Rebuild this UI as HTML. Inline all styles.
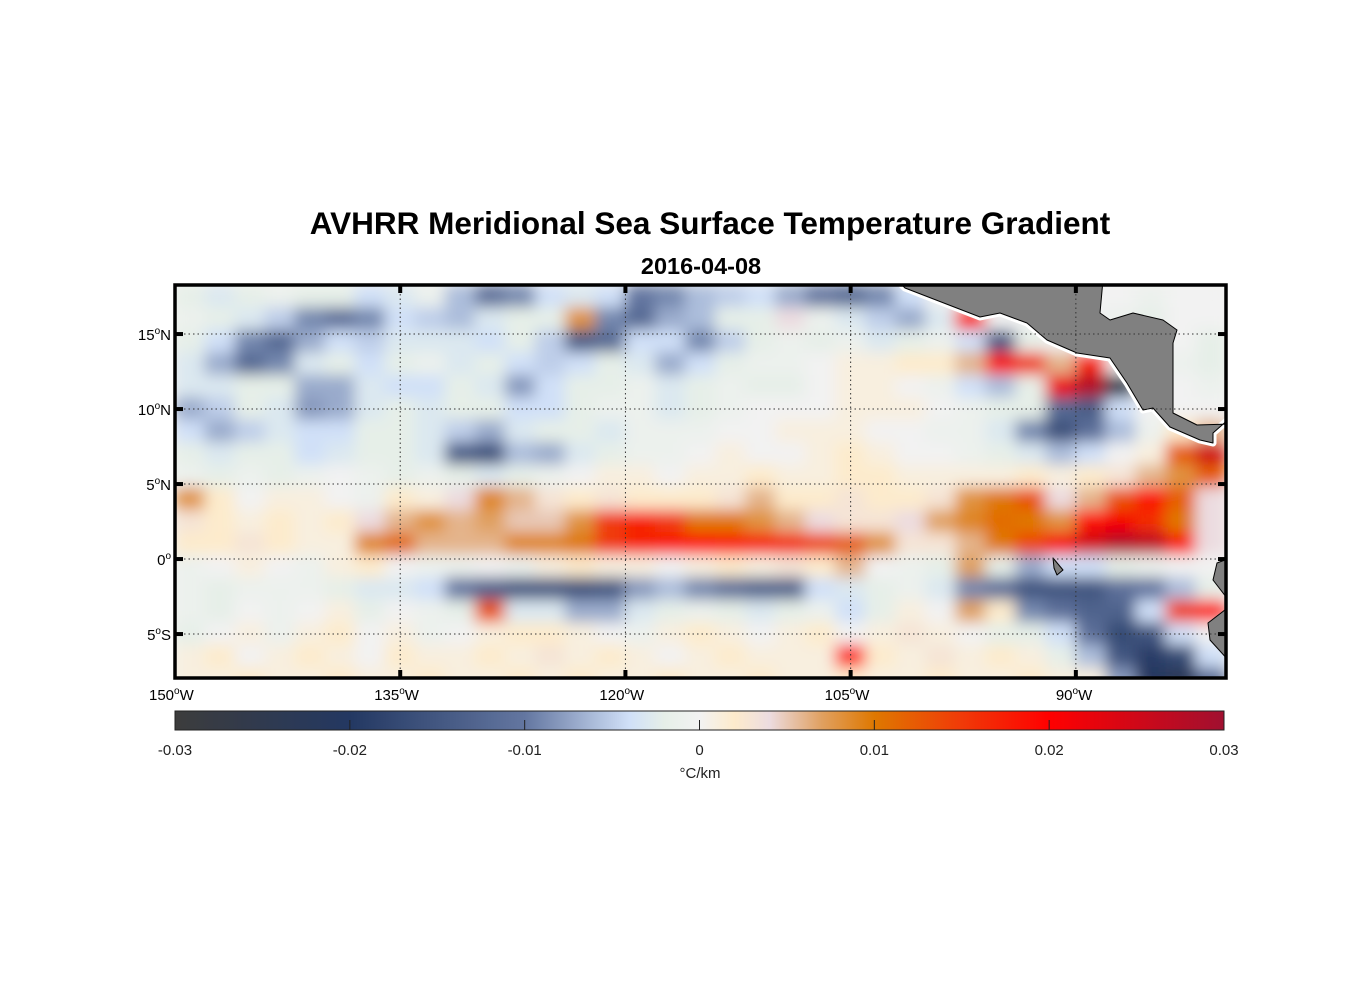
<!DOCTYPE html>
<html><head><meta charset="utf-8"><style>
body{margin:0;background:#fff;}
svg text{font-family:"Liberation Sans",sans-serif;}
</style></head><body>
<svg id="chart" width="1356" height="1000" viewBox="0 0 1356 1000" xmlns="http://www.w3.org/2000/svg">
<defs>
<clipPath id="plotclip"><rect x="175" y="285" width="1051" height="393"/></clipPath>
<filter id="blur" x="-5%" y="-5%" width="110%" height="110%"><feGaussianBlur stdDeviation="7.5" edgeMode="duplicate"/></filter>
<linearGradient id="cbgrad" x1="0" x2="1" y1="0" y2="0"></linearGradient>
</defs>
<text x="710" y="234" text-anchor="middle" font-size="31.5" font-weight="bold">AVHRR Meridional Sea Surface Temperature Gradient</text>
<text x="701" y="274" text-anchor="middle" font-size="23.5" font-weight="bold">2016-04-08</text>
<g clip-path="url(#plotclip)">
<rect x="175" y="285" width="1051" height="393" fill="#f2f2f0"/>
<g id="field" filter="url(#blur)"></g>
<g stroke-linejoin="round">
<polyline fill="none" stroke="#fff" stroke-width="7" points="897,280 905,288 980,317 1000,313 1027,323 1047,340 1077,353 1110,358 1127,383 1143,410 1153,408 1170,427 1200,440 1213,443 1213,433 1230,418"/>
<polygon fill="#808080" stroke="#000" stroke-width="1" points="897,280 905,288 980,317 1000,313 1027,323 1047,340 1077,353 1110,358 1127,383 1143,410 1153,408 1170,427 1200,440 1213,443 1213,433 1230,418 1230,424 1197,425 1173,413 1173,343 1177,330 1163,320 1133,313 1110,320 1100,313 1103,280"/>
<polygon fill="#808080" stroke="#000" stroke-width="1" points="1230,558 1217,563 1213,580 1230,602"/>
<polygon fill="#808080" stroke="#000" stroke-width="1" points="1230,606 1208,623 1210,640 1230,662"/>
<polygon fill="#808080" stroke="#000" stroke-width="1" points="1053,558 1058,564 1063,570 1057,575 1054,568"/>
</g>
<g id="grid" stroke="#333" stroke-width="1" stroke-dasharray="1.5,3"></g>
</g>
<rect x="175" y="285" width="1051" height="393" fill="none" stroke="#000" stroke-width="3.5"/>
<g id="ticks"></g>
<g id="cb"></g>
<text x="700" y="778" text-anchor="middle" font-size="15" fill="#222">°C/km</text>
</svg>
<script>
// data: gradient in units of 0.001 °C/km; columns lon centers -149..-81 step 2; rows lat centers 17.5..-8 step 1.5
const lonCenters = Array.from({length:35},(_, k)=>-149+2*k);
const latCenters = Array.from({length:18},(_, k)=>17.5-1.5*k);
const row00=[-2,-3,-2,-1,-2,-2,-4,-3,-1,-6,-11,-9,-4,-3,-4,-10,-9,-6,-5,-4,-7,-10,-12,-9,-4,0,0,0,0,0,0,0,-1,0,0];
const row01=[-1,-2,-3,-5,-9,-11,-9,-4,-5,-6,-3,-2,-2,8,-9,-12,-7,-6,-2,-2,4,-1,-3,-5,-7,-3,18,0,0,0,0,-1,-2,0,0];
const row02=[-2,-4,-9,-12,-7,-4,-5,-3,-3,-3,-4,-2,-5,-14,-12,-4,-4,-9,-5,-2,-1,-2,-1,-3,-2,-1,-4,-14,-2,0,0,0,0,0,-2];
const row03=[-3,-7,-12,-9,-3,-2,-4,-2,-1,-3,-2,-4,-5,-4,-2,-3,-7,-4,-2,-1,-1,0,1,1,2,2,6,18,15,6,17,0,0,-1,-2];
const row04=[-3,-3,-2,-2,-7,-7,-3,-4,-4,-2,-3,-8,-4,-2,-2,-1,-3,-2,-1,-2,-2,0,1,1,0,-1,-4,-6,-2,22,28,-26,0,0,-1];
const row05=[-7,-5,-2,-3,-8,-7,-3,-2,-3,-2,-2,-4,-4,-2,-1,-1,-3,-2,-1,0,0,0,1,1,1,0,-1,-2,-2,-12,-14,-4,0,0,0];
const row06=[-4,-7,-5,-3,-4,-4,-2,-2,-3,-5,-7,-3,-2,-2,-3,-1,-1,-1,0,0,1,1,1,0,0,-1,-1,-3,-9,-16,-11,-6,-1,2,6];
const row07=[-2,-3,-2,-2,-4,-3,-2,-2,-3,-14,-16,-6,-7,-3,-2,-1,-1,0,1,0,0,1,2,1,0,0,-1,-2,-3,-6,-4,0,1,12,25];
const row08=[-1,-2,-1,-2,-1,0,-1,-2,-1,-2,-3,-2,-1,0,1,1,0,1,1,2,1,1,2,2,1,1,1,1,2,1,2,3,6,8,12];
const row09=[8,2,0,1,1,0,-1,2,1,4,9,6,3,2,3,2,2,2,3,6,2,2,3,2,2,3,8,10,13,4,6,13,19,12,4];
const row10=[3,2,1,2,1,2,4,6,8,6,7,5,5,8,15,17,15,10,10,8,6,4,3,3,4,7,9,11,10,8,19,21,16,10,4];
const row11=[2,2,3,2,1,1,9,11,6,6,6,9,9,10,15,17,18,19,18,17,16,14,12,8,3,3,6,10,14,21,25,28,27,18,4];
const row12=[-1,0,1,0,-1,1,2,0,-1,-1,0,-1,1,2,1,1,0,1,2,1,3,2,6,0,-1,-2,7,-2,-7,-4,-4,-2,-1,0,0];
const row13=[-1,-2,-1,-1,-1,-2,-3,-3,-4,-10,-13,-15,-15,-16,-15,-8,-6,-9,-11,-13,-13,-4,-3,-2,-1,-3,-9,-11,-15,-15,-15,-11,-10,-6,-2];
const row14=[-1,-2,0,-1,0,1,-2,0,-1,-2,13,-3,-3,-7,-7,-3,-2,-1,-2,-3,-2,-1,-4,-2,1,0,7,2,-9,-11,-13,-13,-4,15,19];
const row15=[-2,0,1,-1,1,2,0,1,-1,0,1,2,2,1,0,-1,1,2,1,0,1,2,0,1,3,1,0,-2,-2,-4,-11,-17,-15,-4,0];
const row16=[1,2,0,1,2,1,0,2,1,1,2,1,3,1,2,1,0,1,2,1,1,1,19,2,1,3,1,2,1,-2,-6,-15,-19,-17,-4];
const row17=[1,1,2,1,1,2,1,1,2,1,1,2,1,2,1,1,2,1,1,2,1,1,2,1,1,2,1,1,2,1,1,-8,-21,-23,-12];
const fieldRows=[row00,row01,row02,row03,row04,row05,row06,row07,row08,row09,row10,row11,row12,row13,row14,row15,row16,row17];
const lonTicks=[-150,-135,-120,-105,-90];
const lonTickLabels=["150","135","120","105","90"];
const latTicks=[15,10,5,0,-5];
const latTickLabels=["15","10","5","0","5"];
const latTickSuffix=["N","N","N","","S"];
const cbTicks=[-0.03,-0.02,-0.01,0,0.01,0.02,0.03];
const cbTickLabels=["-0.03","-0.02","-0.01","0","0.01","0.02","0.03"];

const NS="http://www.w3.org/2000/svg";
const X0=175, X1=1226, LON0=-150, LON1=-80;
const Y0=285, Y1=678, LAT0=18.27, LAT1=-7.93;
function xOf(lon){return X0+(lon-LON0)/(LON1-LON0)*(X1-X0);}
function yOf(lat){return Y0+(LAT0-lat)/(LAT0-LAT1)*(Y1-Y0);}
const stops=[[-30,[60,60,60]],[-20,[35,56,98]],[-10,[99,118,160]],[-4,[208,224,248]],[-2,[230,239,232]],[0,[242,242,242]],[2,[253,235,204]],[4,[236,220,224]],[7,[224,160,96]],[10,[223,120,0]],[15,[240,58,8]],[20,[255,0,0]],[30,[160,16,48]]];
function col(v){
  if(v<=stops[0][0]) return stops[0][1];
  for(let i=1;i<stops.length;i++){
    if(v<=stops[i][0]){const a=stops[i-1],b=stops[i];const t=(v-a[0])/(b[0]-a[0]);
      return a[1].map((c,j)=>Math.round(c+(b[1][j]-c)*t));}
  }
  return stops[stops.length-1][1];
}
function rgb(c){return `rgb(${c[0]},${c[1]},${c[2]})`;}
function mk(tag,attrs,parent){const e=document.createElementNS(NS,tag);for(const k in attrs)e.setAttribute(k,attrs[k]);parent.appendChild(e);return e;}

const field=document.getElementById('field');
fieldRows.forEach((row,r)=>{
  row.forEach((v,c)=>{
    const lon=lonCenters[c], lat=latCenters[r];
    const x=xOf(lon-1), w=xOf(lon+1)-x, y=yOf(lat+0.75), h=yOf(lat-0.75)-y;
    const e=mk('rect',{x:x-0.5,y:y-0.5,width:w+1,height:h+1,fill:rgb(col(v))},field);
    
    
  });
});

const grid=document.getElementById('grid');
lonTicks.slice(1).forEach(l=>{const e=mk('line',{x1:xOf(l),x2:xOf(l),y1:Y0,y2:Y1},grid);
  
  });
latTicks.forEach(l=>{const e=mk('line',{x1:X0,x2:X1,y1:yOf(l),y2:yOf(l)},grid);
  
  });

const ticks=document.getElementById('ticks');
lonTicks.forEach((l,i)=>{
  const x=xOf(l);
  if(i>0){
    let e=mk('line',{x1:x,x2:x,y1:Y0,y2:Y0+8,stroke:'#000','stroke-width':4},ticks);
    
    e=mk('line',{x1:x,x2:x,y1:Y1,y2:Y1-8,stroke:'#000','stroke-width':4},ticks);
    
  }
  const t=mk('text',{x:x-26+(lonTickLabels[i].length<3?6:0),y:700,'font-size':15},ticks);
  
  
  t.innerHTML=`${lonTickLabels[i]}<tspan dy="-6" font-size="10">o</tspan><tspan dy="6">W</tspan>`;
});
latTicks.forEach((l,i)=>{
  const y=yOf(l);
  let e=mk('line',{x1:X0,x2:X0+8,y1:y,y2:y,stroke:'#000','stroke-width':4},ticks);
  
  e=mk('line',{x1:X1,x2:X1-8,y1:y,y2:y,stroke:'#000','stroke-width':4},ticks);
  
  const t=mk('text',{x:171,y:y+6,'font-size':15,'text-anchor':'end'},ticks);
  
  
  t.innerHTML=`${latTickLabels[i]}<tspan dy="-6" font-size="10">o</tspan><tspan dy="6">${latTickSuffix[i]}</tspan>`;
});

// colorbar
const grad=document.getElementById('cbgrad');
for(let v=-30;v<=30;v+=1){mk('stop',{offset:((v+30)/60),'stop-color':rgb(col(v))},grad);}
const cb=document.getElementById('cb');
const CX0=175,CX1=1224,CY0=711,CY1=730;
function cbx(v){return CX0+(v-cbTicks[0])/(cbTicks[cbTicks.length-1]-cbTicks[0])*(CX1-CX0);}
let r=mk('rect',{x:CX0,y:CY0,width:CX1-CX0,height:CY1-CY0,fill:'url(#cbgrad)',stroke:'#222','stroke-width':1},cb);


cbTicks.forEach((v,i)=>{
  const x=cbx(v);
  if(i>0&&i<cbTicks.length-1){
    const l=mk('line',{x1:x,x2:x,y1:CY1,y2:CY1-10,stroke:'#222','stroke-width':1},cb);
    
    
  }
  const t=mk('text',{x:x,y:755,'font-size':15,'text-anchor':'middle',fill:'#222'},cb);
  
  
  t.textContent=cbTickLabels[i];
});
</script>
</body></html>
